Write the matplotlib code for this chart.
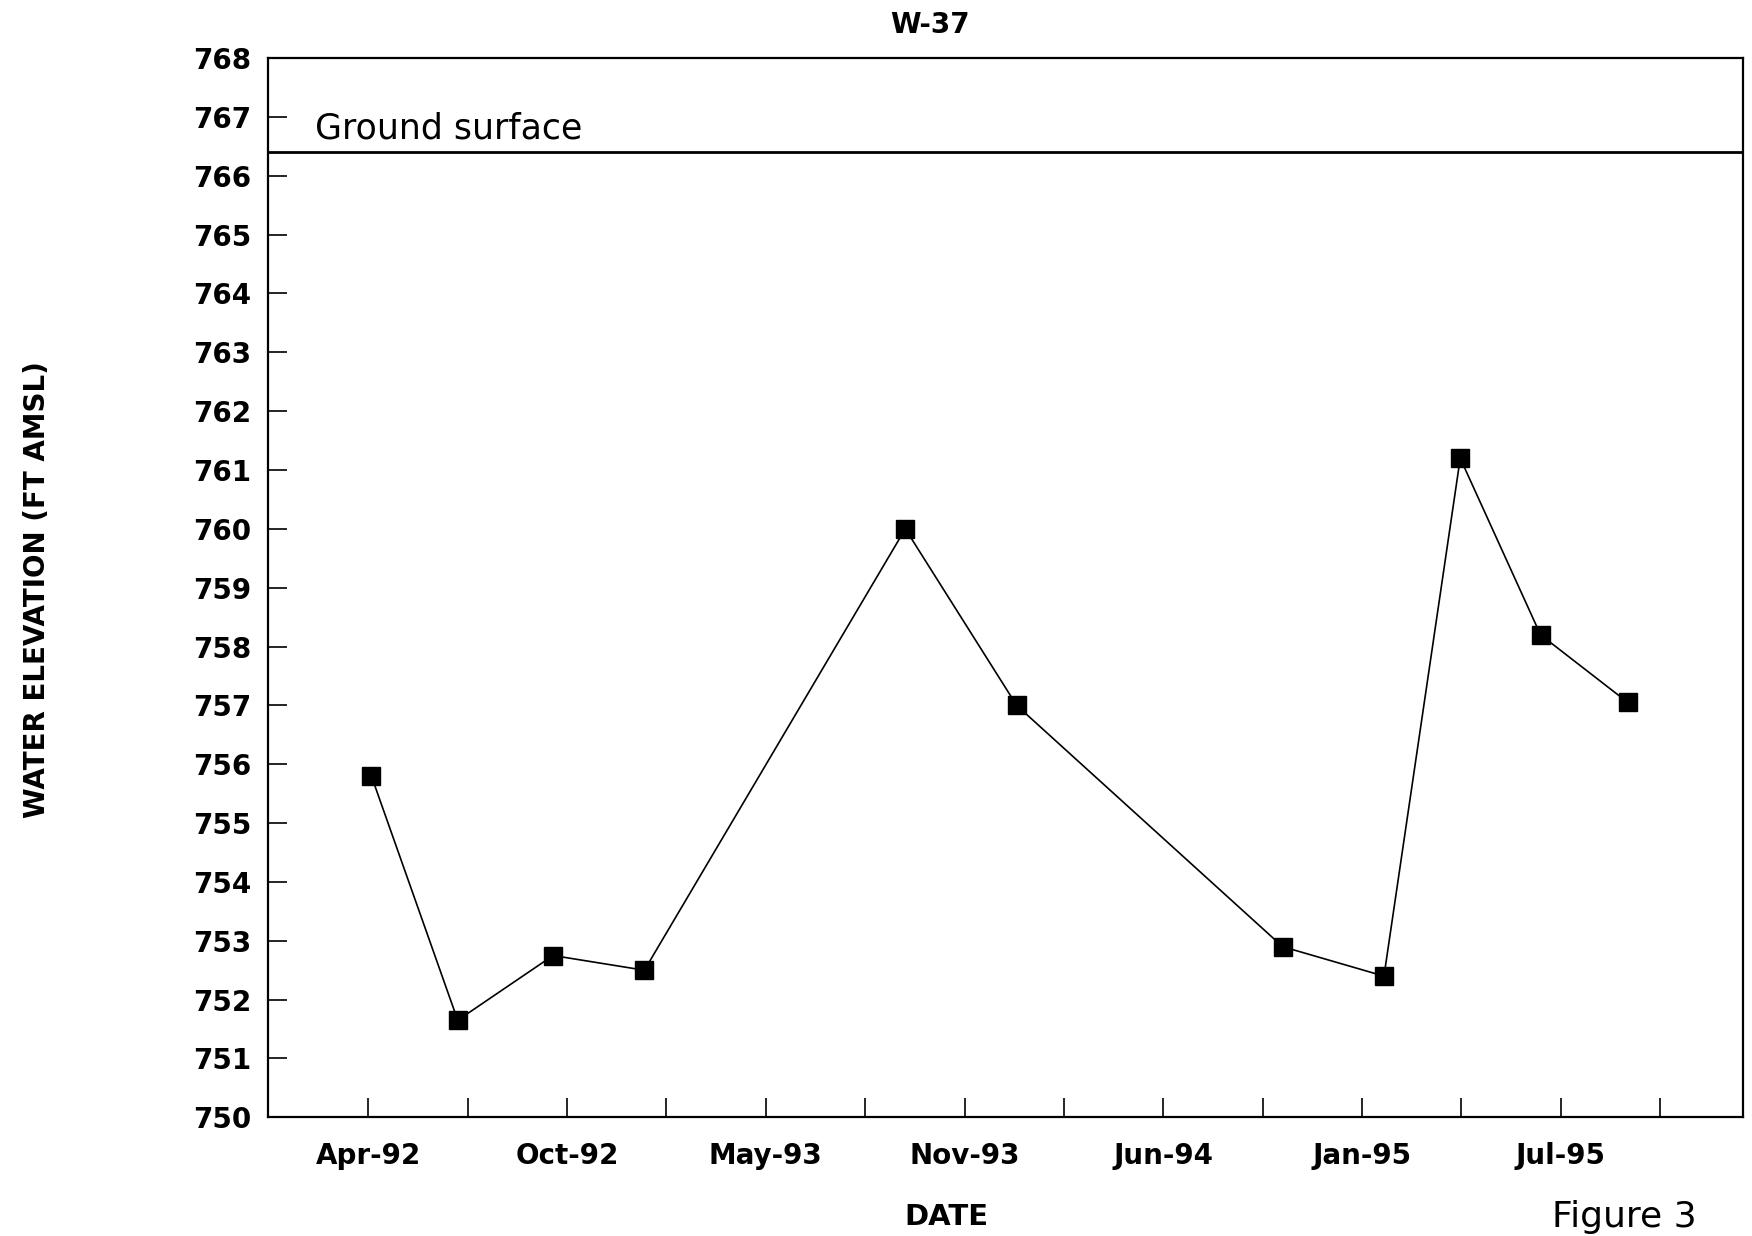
import matplotlib
matplotlib.use('agg')
import matplotlib.pyplot as plt
import pandas as pd

# sampled water levels for well W-37
sample_dates = ['1992-04-18', '1992-07-13', '1992-10-16', '1993-01-15', '1993-10-02',
                '1994-01-21', '1994-10-13', '1995-01-22', '1995-04-08', '1995-06-27',
                '1995-09-22']
water_elev = [755.8, 751.65, 752.75, 752.5, 760.0, 757.0, 752.9, 752.4, 761.2, 758.2, 757.05]

ground_surface = 766.4
tick_labels = ['Apr-92', '', 'Oct-92', '', 'May-93', '', 'Nov-93', '', 'Jun-94', '',
               'Jan-95', '', 'Jul-95', '']

plt.rcParams['font.family'] = ['Liberation Sans Narrow', 'DejaVu Sans Condensed', 'DejaVu Sans']

dates = pd.to_datetime(sample_dates)
tick_pos = pd.date_range('1992-04-15', periods=len(tick_labels), freq='99D')

fig = plt.figure(figsize=(17.52, 12.36), dpi=100)
ax = fig.add_axes([0.153, 0.096, 0.842, 0.857])

ax.plot(dates, water_elev, '-', color='black', lw=1.2,
        marker='s', markersize=13, markerfacecolor='black', markeredgecolor='black')
ax.axhline(ground_surface, color='black', lw=2)
ax.text(pd.Timestamp('1992-02-22'), ground_surface + 0.12, 'Ground surface',
        fontsize=25, family=['DejaVu Sans'], ha='left', va='bottom')

ax.set_ylim(750, 768)
ax.set_yticks(range(750, 769))
ax.set_xlim(pd.Timestamp('1992-01-06'), pd.Timestamp('1996-01-15'))
ax.set_xticks(tick_pos)
ax.set_xticklabels(tick_labels)

ax.tick_params(axis='both', direction='in', length=14, width=1.2, colors='black')
ax.tick_params(axis='y', labelsize=20, pad=12)
ax.tick_params(axis='x', labelsize=20, pad=18)
for lab in ax.get_xticklabels() + ax.get_yticklabels():
    lab.set_fontweight('bold')
for s in ax.spines.values():
    s.set_linewidth(1.6)

fig.text(0.531, 0.98, 'W-37', fontsize=20, fontweight='bold', ha='center', va='center')
fig.text(0.021, 0.523, 'WATER ELEVATION (FT AMSL)', rotation=90, fontsize=20,
         fontweight='bold', family=['DejaVu Sans'], ha='center', va='center')
fig.text(0.54, 0.015, 'DATE', fontsize=21, fontweight='bold', ha='center', va='center')
fig.text(0.886, 0.002, 'Figure 3', fontsize=26, family=['DejaVu Sans'], ha='left', va='bottom')

plt.savefig('out.png', dpi=100)
